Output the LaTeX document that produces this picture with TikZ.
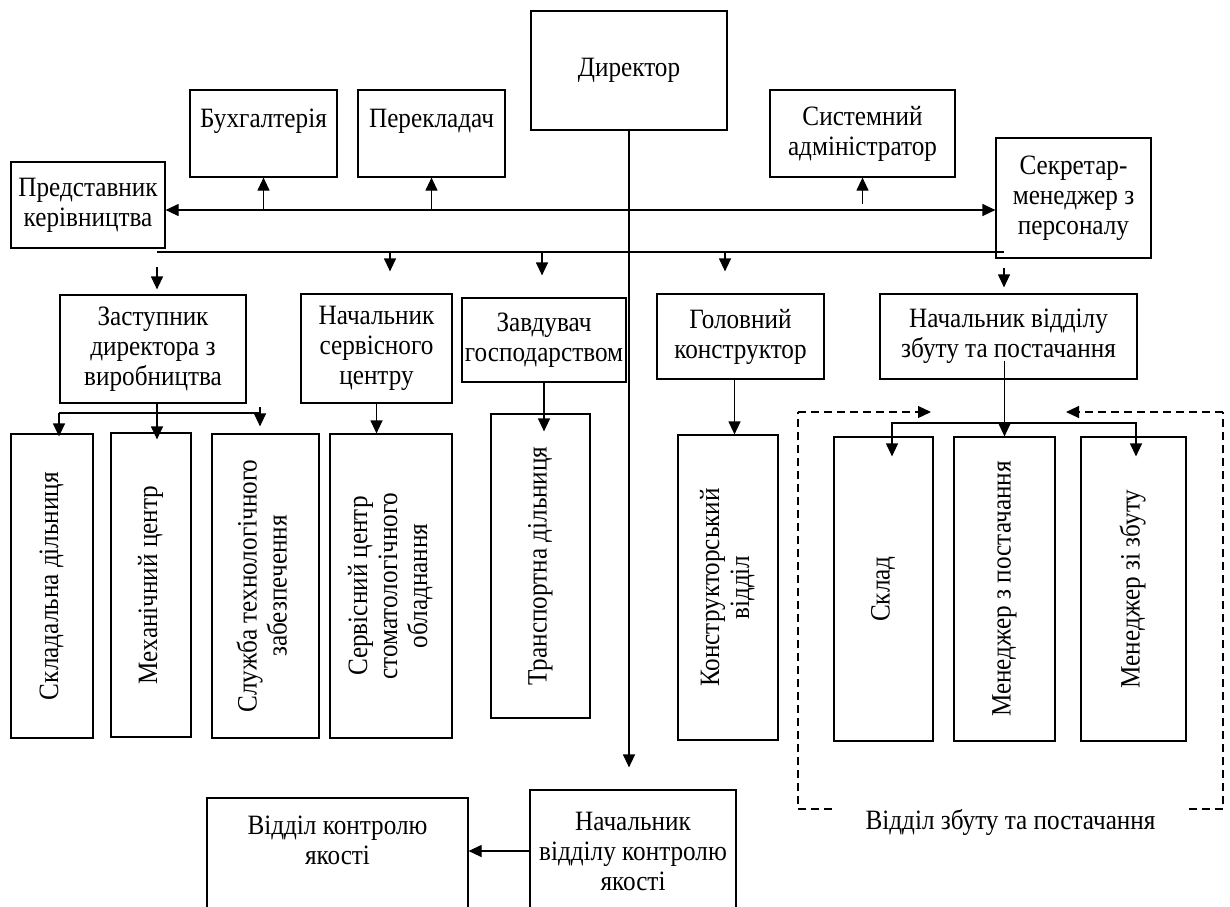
\documentclass[tikz,border=0pt]{standalone}
\usepackage{fontspec}
\setmainfont{Liberation Serif}[FakeStretch=0.9]
\usepackage{graphicx}
\usetikzlibrary{arrows.meta,calc}

\tikzset{
  >={Triangle[length=6.5pt,width=6pt]},
  unit/.style={draw, line width=0.6pt, inner sep=1pt, align=center},
  dashpat/.style={dash pattern=on 4pt off 2.5pt},
}
\newcommand{\vtext}[1]{\rotatebox{90}{\begin{tabular}{@{}c@{}}#1\end{tabular}}}

\begin{document}
\begin{tikzpicture}[x=0.5pt, y=-0.5pt, line width=0.6pt, font=\fontsize{14}{15}\selectfont]
\clip (0,0) rectangle (1230,906);

% top level
\node[unit, minimum width=98pt, minimum height=59.5pt] (dir) at (629,70.5) {Директор};
\node[unit, minimum width=77pt, minimum height=43pt] (pred) at (88,205) {Представник\\керівництва};
\node[unit, minimum width=73.5pt, minimum height=43.5pt] (buh) at (263.5,133.5) {Бухгалтерія\\\mbox{}};
\node[unit, minimum width=73.5pt, minimum height=43.5pt] (perek) at (431.5,133.5) {Перекладач\\\mbox{}};
\node[unit, minimum width=92.5pt, minimum height=43.5pt] (sys) at (862.5,133.5) {Системний\\адміністратор};
\node[unit, minimum width=77.5pt, minimum height=60pt] (secr) at (1073.5,198) {Секретар-\\менеджер з\\персоналу};

% heads of departments
\node[unit, minimum width=93pt, minimum height=54pt] (zast) at (153,349) {Заступник\\директора з\\виробництва};
\node[unit, minimum width=75.5pt, minimum height=54.5pt] (nsc) at (376.5,348.5) {Начальник\\сервісного\\центру};
\node[unit, minimum width=82pt, minimum height=42pt] (zavd) at (544,340) {Завдувач\\господарством};
\node[unit, minimum width=83.5pt, minimum height=42.5pt] (golov) at (740.5,336.5) {Головний\\конструктор};
\node[unit, minimum width=128.5pt, minimum height=42.5pt] (nvz) at (1008.5,336.5) {Начальник відділу\\збуту та постачання};

% units
\node[unit, minimum width=41pt, minimum height=152pt] (skld) at (52,586) {\vtext{Складальна дільниця}};
\node[unit, minimum width=40pt, minimum height=152pt] (mech) at (151,585) {\vtext{Механічний центр}};
\node[unit, minimum width=53.5pt, minimum height=152pt] (sluzh) at (265.5,586) {\vtext{Служба технологічного\\забезпечення}};
\node[unit, minimum width=61pt, minimum height=152pt] (servc) at (391,586) {\vtext{Сервісний центр\\стоматологічного\\обладнання}};
\node[unit, minimum width=49.5pt, minimum height=152pt] (transp) at (540.5,566) {\vtext{Транспортна дільниця}};
\node[unit, minimum width=50pt, minimum height=152.5pt] (konstr) at (728,587.5) {\vtext{Конструкторський\\відділ}};
\node[unit, minimum width=49.5pt, minimum height=152pt] (sklad) at (883.5,589) {\vtext{Склад}};
\node[unit, minimum width=50.5pt, minimum height=152pt] (mzp) at (1004.5,589) {\vtext{Менеджер з постачання}};
\node[unit, minimum width=52.5pt, minimum height=152pt] (mzz) at (1133.5,589) {\vtext{Менеджер зі збуту}};

% quality control
\node[unit, minimum width=103pt, minimum height=61pt] (nvk) at (633,851) {Начальник\\відділу контролю\\якості};
\node[unit, minimum width=130.5pt, minimum height=57pt] (vkj) at (337.5,855) {Відділ контролю\\якості\\\mbox{}};

% buses
\coordinate (busa) at (629,210);
\coordinate (busbl) at (157,252);
\coordinate (busbr) at (1004,252);
\coordinate (zbus) at (157,413);
\coordinate (sbus) at (1004,423);

\draw[<->] (pred.east |- busa) -- (secr.west |- busa);
\draw[->] (buh.south |- busa) -- (buh.south);
\draw[->] (perek.south |- busa) -- (perek.south);
\draw[->] ([yshift=3pt]sys.south |- busa) -- (sys.south);
\draw[->] (dir.south) -- ([yshift=11pt]dir.south |- nvk.north);

\draw (busbl) -- (busbr);
\draw[->, shorten >=2.5pt] ([xshift=2pt,yshift=13.5pt]zast.north) -- ([xshift=2pt]zast.north);
\draw[->, shorten >=11pt] ([xshift=6.75pt]nsc.north |- busbl) -- ([xshift=6.75pt]nsc.north);
\draw[->, shorten >=11pt] ([xshift=-1pt]zavd.north |- busbl) -- ([xshift=-1pt]zavd.north);
\draw[->, shorten >=11pt] ([xshift=-7.75pt]golov.north |- busbl) -- ([xshift=-7.75pt]golov.north);
\draw[->, shorten >=3pt] ([xshift=-2.25pt,yshift=12.5pt]nvz.north) -- ([xshift=-2.25pt]nvz.north);

% deputy director
\draw ([xshift=3.5pt]skld.north |- zbus) -- ([xshift=-2.75pt]sluzh.north |- zbus);
\draw[->] ([xshift=3.5pt]skld.north |- zbus) -- ([xshift=3.5pt,yshift=-1.5pt]skld.north);
\draw[->] ([xshift=2pt]zast.south) -- ([xshift=3pt,yshift=-3.5pt]mech.north);
\draw[->, shorten >=3.5pt] ([xshift=-2.75pt,yshift=3pt]sluzh.north |- zbus) -- ([xshift=-2.75pt]sluzh.north);

\draw[->] (nsc.south) -- (nsc.south |- servc.north);
\draw[->] (zavd.south) -- ([yshift=-9pt]zavd.south |- transp.north);
\draw[->] ([xshift=-3pt]golov.south) -- ([xshift=-3pt]golov.south |- konstr.north);

% sales and supply
\draw[->] ([xshift=-2pt,yshift=9.5pt]nvz.south) -- ([xshift=-2pt]nvz.south |- mzp.north);
\draw[<->] ([xshift=4.25pt,yshift=-10pt]sklad.north) -- ([xshift=4.25pt]sklad.north |- sbus)
  -- ([xshift=1.25pt]mzz.north |- sbus) -- ([xshift=1.25pt,yshift=-10pt]mzz.north);

\coordinate (dtl) at (798,412);
\coordinate (dtr) at (1223,412);
\coordinate (dbl) at (798,809);
\coordinate (dbr) at (1223,809);
\coordinate (dal) at (931,412);
\coordinate (dar) at (1066,412);
\node[minimum width=177.5pt, inner sep=1pt] (vzp) at (1010.5,822) {Відділ збуту та постачання};
\draw[dashpat] (vzp.west |- dbl) -- (dbl) -- (dtl);
\draw[dashpat] (vzp.east |- dbr) -- (dbr) -- (dtr);
\draw[dashpat, ->] (dtl) -- (dal);
\draw[dashpat, ->] (dtr) -- (dar);

\draw[->] (nvk.west) -- (nvk.west -| vkj.east);
\end{tikzpicture}
\end{document}
